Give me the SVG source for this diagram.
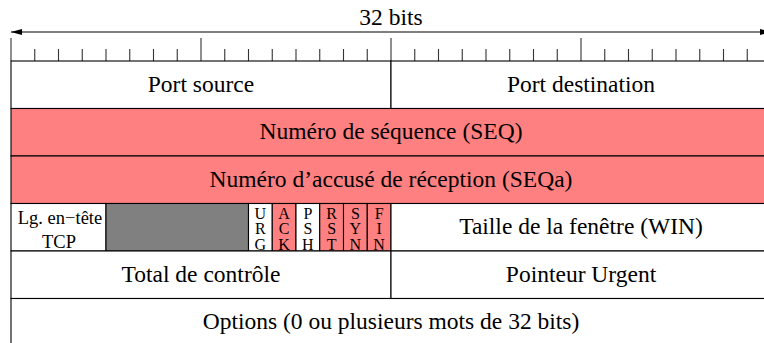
<svg xmlns="http://www.w3.org/2000/svg" width="764" height="343" viewBox="0 0 764 343" font-family="'Liberation Serif', 'Times New Roman', Tinos, 'DejaVu Serif', serif">
<style>
text{font-family:'Liberation Serif','Times New Roman',Tinos,'DejaVu Serif',serif;fill:#000;text-anchor:middle}
.t{font-size:23.5px}
.s{font-size:18.5px}
.f{font-size:16px;writing-mode:vertical-rl;text-orientation:upright;letter-spacing:-1.5px}
.c{stroke:#000;stroke-width:1.1}
.w{fill:#fff}
.r{fill:#ff8080}
.g{fill:#808080}
.tk{stroke:#333;stroke-width:1.1}
</style>
<defs>
<marker id="ah" viewBox="0 0 11 6" refX="11" refY="3" markerWidth="11" markerHeight="6" markerUnits="userSpaceOnUse" orient="auto-start-reverse">
<path d="M0,0 L11,3 L0,6 Z" fill="#000"/>
</marker>
</defs>
<rect width="764" height="343" fill="#fff"/>
<g id="scale">
<text class="t" x="391" y="25">32 bits</text>
<g id="ticks" class="tk">
<path d="M11,38V61M201,38V61M391,38V61M581,38V61M771,38V61"/>
<path d="M34.75,49V61M58.5,49V61M82.25,49V61M106,49V61M129.75,49V61M153.5,49V61M177.25,49V61M224.75,49V61M248.5,49V61M272.25,49V61M296,49V61M319.75,49V61M343.5,49V61M367.25,49V61M414.75,49V61M438.5,49V61M462.25,49V61M486,49V61M509.75,49V61M533.5,49V61M557.25,49V61M604.75,49V61M628.5,49V61M652.25,49V61M676,49V61M699.75,49V61M723.5,49V61M747.25,49V61"/>
</g>
</g>
<g id="connectors">
<line x1="11" y1="32" x2="771" y2="32" stroke="#000" stroke-width="1.1" marker-start="url(#ah)" marker-end="url(#ah)"/>
</g>
<g id="port-source"><rect class="w c" x="11" y="61" width="380" height="47.5"/><text class="t" x="201" y="91.5">Port source</text></g>
<g id="port-destination"><rect class="w c" x="391" y="61" width="380" height="47.5"/><text class="t" x="581" y="91.5">Port destination</text></g>
<g id="seq"><rect class="r c" x="11" y="108.5" width="760" height="47.5"/><text class="t" x="391" y="139">Numéro de séquence (SEQ)</text></g>
<g id="seqa"><rect class="r c" x="11" y="156" width="760" height="47.5"/><text class="t" x="391" y="186.5">Numéro d’accusé de réception (SEQa)</text></g>
<g id="lg-entete"><rect class="w c" x="11" y="203.5" width="95" height="47.5"/><text class="s"><tspan x="60" y="224">Lg. en−tête</tspan><tspan x="59" y="248">TCP</tspan></text></g>
<g id="reserve"><rect class="g c" x="106" y="203.5" width="142.5" height="47.5"/></g>
<g id="flag-urg"><rect class="w c" x="248.5" y="203.5" width="23.75" height="47.5"/><text class="f" x="260.4" y="228">URG</text></g>
<g id="flag-ack"><rect class="r c" x="272.25" y="203.5" width="23.75" height="47.5"/><text class="f" x="284.1" y="228">ACK</text></g>
<g id="flag-psh"><rect class="w c" x="296" y="203.5" width="23.75" height="47.5"/><text class="f" x="307.9" y="228">PSH</text></g>
<g id="flag-rst"><rect class="r c" x="319.75" y="203.5" width="23.75" height="47.5"/><text class="f" x="331.6" y="228">RST</text></g>
<g id="flag-syn"><rect class="r c" x="343.5" y="203.5" width="23.75" height="47.5"/><text class="f" x="355.4" y="228">SYN</text></g>
<g id="flag-fin"><rect class="r c" x="367.25" y="203.5" width="23.75" height="47.5"/><text class="f" x="379.1" y="228">FIN</text></g>
<g id="window"><rect class="w c" x="391" y="203.5" width="380" height="47.5"/><text class="t" x="581" y="234">Taille de la fenêtre (WIN)</text></g>
<g id="checksum"><rect class="w c" x="11" y="251" width="380" height="47.5"/><text class="t" x="201" y="281.5">Total de contrôle</text></g>
<g id="urgent-pointer"><rect class="w c" x="391" y="251" width="380" height="47.5"/><text class="t" x="581" y="281.5">Pointeur Urgent</text></g>
<g id="options"><rect class="w c" x="11" y="298.5" width="760" height="60"/><text class="t" x="391" y="329">Options (0 ou plusieurs mots de 32 bits)</text></g>
</svg>
